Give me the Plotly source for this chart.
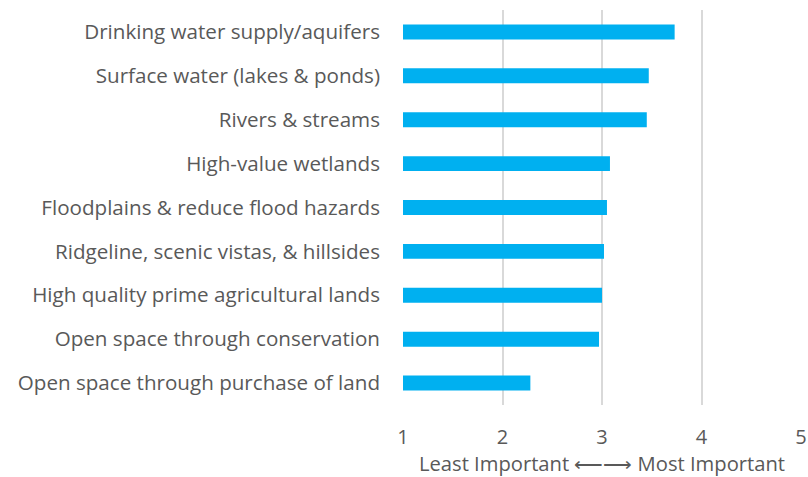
import plotly.graph_objects as go

categories = [
    "Drinking water supply/aquifers",
    "Surface water (lakes & ponds)",
    "Rivers & streams",
    "High-value wetlands",
    "Floodplains & reduce flood hazards",
    "Ridgeline, scenic vistas, & hillsides",
    "High quality prime agricultural lands",
    "Open space through conservation",
    "Open space through purchase of land",
]
values = [3.73, 3.47, 3.45, 3.08, 3.05, 3.02, 3.00, 2.97, 2.28]
x_ticks = [1, 2, 3, 4, 5]
x_title = "Least Important \u27f5\u27f6 Most Important"

base = 1
fig = go.Figure(go.Bar(
    y=categories,
    x=[v - base for v in values],
    base=base,
    orientation="h",
    marker=dict(color="#00B0F0", line=dict(width=0)),
    hoverinfo="skip",
))

font_family = "'Open Sans', sans-serif"
fig.update_layout(
    width=808, height=477,
    margin=dict(l=403, r=7, t=10, b=72, pad=0),
    paper_bgcolor="white", plot_bgcolor="white",
    bargap=0.66,
    showlegend=False,
    font=dict(family=font_family, color="#595959", size=20),
    xaxis=dict(
        range=[1, 5],
        automargin=False,
        tickvals=x_ticks,
        ticktext=[str(t) for t in x_ticks],
        showgrid=True, gridcolor="#d9d9d9", gridwidth=1.5,
        zeroline=False, showline=False,
        ticks="", ticklabelstandoff=18,
        tickfont=dict(size=20, color="#595959"),
        title=dict(text=x_title, font=dict(size=20.2, color="#595959"), standoff=7),
    ),
    yaxis=dict(
        categoryorder="array",
        categoryarray=list(reversed(categories)),
        automargin=False,
        showgrid=False, zeroline=False, showline=False,
        ticks="", ticklabelstandoff=22,
        tickfont=dict(size=20.6, color="#595959"),
    ),
)

fig.write_html("out.html")
